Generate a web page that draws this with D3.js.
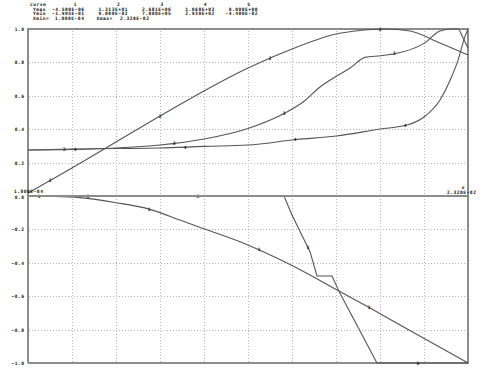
<!DOCTYPE html>
<html>
<head>
<meta charset="utf-8">
<script src="https://cdn.jsdelivr.net/npm/d3@7"></script>
<style>
  body { margin: 0; background: #fff; }
  svg text { font-family: "DejaVu Sans Mono", "Liberation Mono", monospace; font-size: 4.6px; font-weight: bold; letter-spacing: 0.5px; fill: #111; }
</style>
</head>
<body>
<div id="chart"></div>
<script>
// Header table
var curveIds = [1, 2, 3, 4, 5];
var yMaxValues = [-4.5e-6, 1.313e1, 2.681e6, 1.068e3, 0];
var yMinValues = [-1.995e-1, 9.0e-2, 7.0e5, 2.93e2, -4.4e-2];
var xMin = 1.0e-4;
var xMax = 2.32e-2;

// Y tick labels
var upperTicks = [1.0, 0.8, 0.6, 0.4, 0.2, 0.0];
var lowerTicks = [-0.2, -0.4, -0.6, -0.8, -1.0];

// Curves as [x in 1e-3, y / scale]
// curves 2-4 (top panel) are scaled by Ymax, curves 1 and 5 (bottom panel) by |Ymin|
var curve1 = [[0.10, 0.000], [1.26, -0.002], [2.83, -0.010], [4.72, -0.040], [6.51, -0.080],
  [8.08, -0.144], [9.34, -0.196], [11.23, -0.274], [12.28, -0.325], [13.96, -0.416],
  [16.48, -0.572], [18.06, -0.671], [19.63, -0.772], [23.20, -1.000]];
var curve2 = [[0.10, 0.018], [2.41, 0.168], [4.72, 0.323], [7.03, 0.479], [9.34, 0.629],
  [11.65, 0.766], [13.96, 0.880], [16.27, 0.970], [17.53, 0.991], [18.84, 1.000],
  [20.16, 0.988], [21.73, 0.916], [23.20, 0.844]];
var curve3 = [[0.10, 0.275], [2.41, 0.278], [4.72, 0.287], [7.03, 0.305], [9.34, 0.341],
  [11.65, 0.404], [13.59, 0.497], [14.54, 0.563], [15.43, 0.653], [16.22, 0.713],
  [17.01, 0.766], [17.79, 0.830], [18.63, 0.840], [19.42, 0.853], [20.89, 0.914],
  [21.73, 0.988], [22.36, 1.000], [22.68, 1.000], [22.94, 0.946], [23.20, 0.886]];
var curve4 = [[0.10, 0.275], [2.41, 0.281], [4.72, 0.284], [7.03, 0.287], [9.34, 0.297],
  [11.65, 0.305], [14.17, 0.338], [16.27, 0.359], [18.58, 0.401], [20.00, 0.425],
  [20.89, 0.473], [21.73, 0.575], [22.36, 0.720], [22.68, 0.814], [23.04, 0.954],
  [23.20, 1.000]];
var curve5 = [[0.10, 0.000], [13.54, 0.000], [13.96, -0.114], [14.91, -0.335], [15.27, -0.479],
  [16.06, -0.479], [16.48, -0.583], [18.42, -1.000], [23.20, -1.000]];

// where the curve numbers sit along each line (fraction of x range)
var labelPhase = [0.025, 0.05, 0.082, 0.107, 0.136];
var labelStep = 0.25;

var plot = {};

plot.width = 484;
plot.height = 368;
plot.left = 28;
plot.right = 468;
plot.top = 29;
plot.mid = 196;
plot.bottom = 363;

plot.frameColor = "#8c8c8c";
plot.lineColor = "#555";
plot.gridColor = "#b4b4b4";

plot.x = d3.scaleLinear().domain([xMin, xMax]).range([plot.left, plot.right]);
plot.yUp = d3.scaleLinear().domain([0, 1]).range([plot.mid, plot.top]);
plot.yLow = d3.scaleLinear().domain([-1, 0]).range([plot.bottom, plot.mid]);

// 1.313e+1 -> 1.313E+01
plot.sci = function(v) {
  var m = v.toExponential(3).toUpperCase().match(/^(-?[\d.]+)E([+-])(\d+)$/);
  return m[1] + "E" + m[2] + (m[3].length < 2 ? "0" + m[3] : m[3]);
}

plot.toPoints = function(data) {
  return data.map(function(d) { return [d[0] * 1e-3, d[1]]; });
}

plot.valueAt = function(pts, x) {
  var i = d3.bisector(function(d) { return d[0]; }).left(pts, x);
  if (i <= 0) return pts[0][1];
  if (i >= pts.length) return pts[pts.length - 1][1];
  var a = pts[i - 1], b = pts[i];
  return a[1] + (b[1] - a[1]) * (x - a[0]) / (b[0] - a[0]);
}

plot.buildSvg = function() {
  return d3.select("#chart").append("svg")
    .attr("width", plot.width).attr("height", plot.height);
}

plot.drawHeader = function(svg) {
  var col = d3.scaleLinear().domain([1, 5]).range([75, 248.5]);
  var rows = [6.3, 10.8, 15.3, 19.8];
  var g = svg.append("g");
  g.append("text").attr("x", 30).attr("y", rows[0]).text("curve");
  g.selectAll(".cid").data(curveIds).enter().append("text")
    .attr("x", function(d) { return col(d) + 0.3; }).attr("y", rows[0])
    .attr("text-anchor", "middle").text(function(d) { return d; });

  g.append("text").attr("x", 33).attr("y", rows[1]).text("Ymax");
  g.selectAll(".ymax").data(yMaxValues).enter().append("text")
    .attr("x", function(d, i) { return col(i + 1) + 9.6; }).attr("y", rows[1])
    .attr("text-anchor", "end").text(plot.sci);

  g.append("text").attr("x", 33).attr("y", rows[2]).text("Ymin");
  g.selectAll(".ymin").data(yMinValues).enter().append("text")
    .attr("x", function(d, i) { return col(i + 1) + 9.6; }).attr("y", rows[2])
    .attr("text-anchor", "end").text(plot.sci);

  g.append("text").attr("x", 33).attr("y", rows[3]).text("Xmin=");
  g.append("text").attr("x", 55).attr("y", rows[3]).text(plot.sci(xMin));
  g.append("text").attr("x", 96.5).attr("y", rows[3]).text("Xmax=");
  g.append("text").attr("x", 120).attr("y", rows[3]).text(plot.sci(xMax));
}

plot.drawGrid = function(svg) {
  var g = svg.append("g").attr("stroke", plot.gridColor).attr("stroke-width", 1)
    .attr("stroke-dasharray", "1,2");
  var xs = d3.range(1, 10).map(function(i) { return xMin + i * (xMax - xMin) / 10; });
  g.selectAll(".vg").data(xs).enter().append("line")
    .attr("x1", function(d) { return Math.round(plot.x(d)) + 0.5; })
    .attr("x2", function(d) { return Math.round(plot.x(d)) + 0.5; })
    .attr("y1", plot.top + 2).attr("y2", plot.bottom - 1);
  g.selectAll(".hu").data(upperTicks.slice(1, 5)).enter().append("line")
    .attr("x1", plot.left + 1).attr("x2", plot.right - 1)
    .attr("y1", function(d) { return Math.round(plot.yUp(d)) + 0.5; })
    .attr("y2", function(d) { return Math.round(plot.yUp(d)) + 0.5; });
  g.selectAll(".hl").data(lowerTicks.slice(0, 4)).enter().append("line")
    .attr("x1", plot.left + 1).attr("x2", plot.right - 1)
    .attr("y1", function(d) { return Math.round(plot.yLow(d)) + 0.5; })
    .attr("y2", function(d) { return Math.round(plot.yLow(d)) + 0.5; });
}

plot.drawAxes = function(svg) {
  var fmt = d3.format(".1f");
  var up = svg.append("g").attr("transform", "translate(" + plot.left + ",0)")
    .call(d3.axisLeft(plot.yUp).tickValues(upperTicks).tickSize(0).tickPadding(3.5).tickFormat(fmt));
  var low = svg.append("g").attr("transform", "translate(" + plot.left + ",0)")
    .call(d3.axisLeft(plot.yLow).tickValues(lowerTicks).tickSize(0).tickPadding(3.5).tickFormat(fmt));
  [up, low].forEach(function(a) {
    a.select(".domain").remove();
    a.selectAll("text").attr("font-family", null).attr("font-size", null).attr("fill", null);
  });
  up.selectAll(".tick").filter(function(d) { return d === 0; }).select("text").attr("dy", "0.55em");

  // x range labels at the zero line
  svg.append("text").attr("x", 14).attr("y", plot.mid - 3).text(plot.sci(xMin));
  svg.append("text").attr("x", 447).attr("y", plot.mid - 2).text(plot.sci(xMax));
  svg.append("text").attr("x", plot.x(xMax) - 4.5).attr("y", plot.mid - 7.5)
    .attr("text-anchor", "middle").text("x");
}

plot.drawFrame = function(svg) {
  var g = svg.append("g").attr("stroke", plot.frameColor).attr("stroke-width", 2).attr("fill", "none");
  g.append("path").attr("d", "M" + plot.left + "," + plot.bottom + "V" + plot.top +
    "H" + plot.right + "V" + plot.bottom + "H" + plot.left);
}

plot.drawZeroLine = function(svg) {
  svg.append("line").attr("stroke", plot.frameColor).attr("stroke-width", 2)
    .attr("x1", plot.left).attr("x2", plot.right)
    .attr("y1", plot.mid).attr("y2", plot.mid);
}

plot.drawCurves = function(svg) {
  var series = [
    { id: 1, data: curve1, y: plot.yLow, curve: d3.curveMonotoneX },
    { id: 2, data: curve2, y: plot.yUp, curve: d3.curveMonotoneX },
    { id: 3, data: curve3, y: plot.yUp, curve: d3.curveMonotoneX },
    { id: 4, data: curve4, y: plot.yUp, curve: d3.curveMonotoneX },
    { id: 5, data: curve5, y: plot.yLow, curve: d3.curveLinear }
  ];
  var g = svg.append("g");
  series.forEach(function(s, i) {
    var pts = plot.toPoints(s.data);
    var line = d3.line().curve(s.curve)
      .x(function(d) { return plot.x(d[0]); })
      .y(function(d) { return s.y(d[1]); });
    g.append("path").datum(pts).attr("d", line)
      .attr("fill", "none").attr("stroke", plot.lineColor).attr("stroke-width", 1.1);

    var labels = d3.range(4).map(function(k) {
      return xMin + (labelPhase[i] + k * labelStep) * (xMax - xMin);
    });
    g.selectAll(".lab" + s.id).data(labels).enter().append("text")
      .attr("x", function(d) { return plot.x(d) + 0.3; })
      .attr("y", function(d) { return s.y(plot.valueAt(pts, d)); })
      .attr("dy", "0.35em").attr("text-anchor", "middle")
      .text(s.id);
  });
}

plot.init = function() {
  var svg = plot.buildSvg();
  plot.drawHeader(svg);
  plot.drawGrid(svg);
  plot.drawFrame(svg);
  plot.drawCurves(svg);
  plot.drawZeroLine(svg);
  plot.drawAxes(svg);
}

plot.init();
</script>
</body>
</html>
